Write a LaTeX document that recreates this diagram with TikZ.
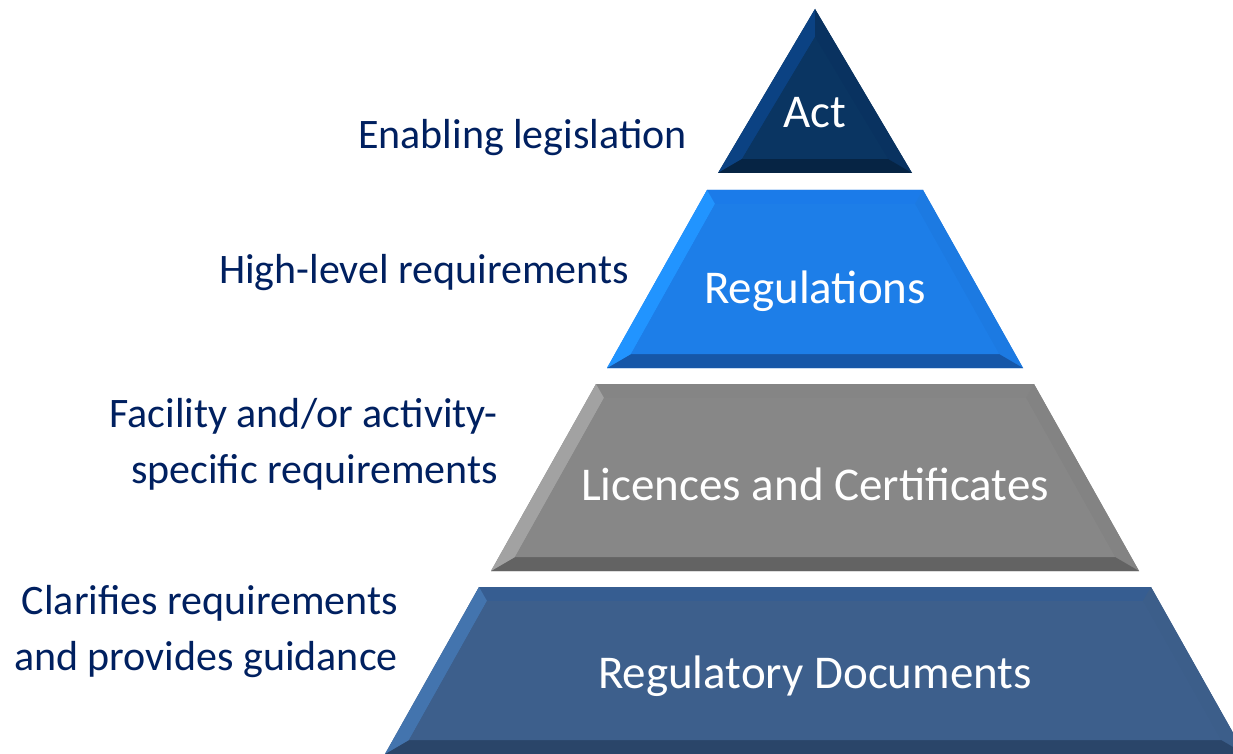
\documentclass[tikz,border=0pt]{standalone}
\usepackage{fontspec}
\setmainfont{Carlito}
\usepackage{xcolor}
\usepackage{tikz}

\definecolor{labelblue}{HTML}{002060}
% act
\definecolor{actmain}{HTML}{0A3562}
\definecolor{actleft}{HTML}{0B4283}
\definecolor{actright}{HTML}{093260}
\definecolor{actbot}{HTML}{062444}
% regulations
\definecolor{regmain}{HTML}{1D7EE8}
\definecolor{regleft}{HTML}{2194FF}
\definecolor{regtop}{HTML}{1B7BE9}
\definecolor{regright}{HTML}{1C7AE2}
\definecolor{regbot}{HTML}{1657A8}
% licences
\definecolor{licmain}{HTML}{878787}
\definecolor{licleft}{HTML}{A2A2A2}
\definecolor{lictop}{HTML}{858585}
\definecolor{licright}{HTML}{838383}
\definecolor{licbot}{HTML}{636363}
% documents
\definecolor{docmain}{HTML}{3D5F8C}
\definecolor{docleft}{HTML}{4374AE}
\definecolor{doctop}{HTML}{365D91}
\definecolor{docright}{HTML}{3C5E8A}
\definecolor{docbot}{HTML}{2A4569}

\begin{document}
\begin{tikzpicture}[x=1pt, y=-1pt,
  tiertext/.style={text=white, inner sep=0pt, anchor=base, font=\fontsize{47}{56}\selectfont},
  sidetext/.style={text=labelblue, inner sep=0pt, anchor=base east, align=right, font=\fontsize{42}{56}\selectfont}]
  \fill[white] (0,0) rectangle (1233,754);
  \useasboundingbox (0,0) rectangle (1233,754);

  % act: triangle at the top
  \fill[actmain] (815,9) -- (912,173) -- (718,173) -- cycle;
  \fill[actleft] (815,9) -- (718,173) -- (742,159) -- (815,37) -- cycle;
  \fill[actright] (815,9) -- (912,173) -- (888,159) -- (815,37) -- cycle;
  \fill[actbot] (718,173) -- (912,173) -- (888,159) -- (742,159) -- cycle;
  \fill[actmain] (815,37) -- (888,159) -- (742,159) -- cycle;

  % the three lower tiers: name/top/bottom/half top/half bottom
  \foreach \c/\yt/\yb/\ht/\hb in {reg/190/368/108/208, lic/384/571/219/324, doc/587/754/336/430}{
    \pgfmathsetmacro{\iyt}{\yt+14}
    \pgfmathsetmacro{\iyb}{\yb-14}
    \pgfmathsetmacro{\iht}{\ht-8}
    \pgfmathsetmacro{\ihb}{\hb-24}
    \fill[\c main] (815-\ht,\yt) -- (815+\ht,\yt) -- (815+\hb,\yb) -- (815-\hb,\yb) -- cycle;
    \fill[\c top] (815-\ht,\yt) -- (815+\ht,\yt) -- (815+\iht,\iyt) -- (815-\iht,\iyt) -- cycle;
    \fill[\c right] (815+\ht,\yt) -- (815+\hb,\yb) -- (815+\ihb,\iyb) -- (815+\iht,\iyt) -- cycle;
    \fill[\c bot] (815-\hb,\yb) -- (815+\hb,\yb) -- (815+\ihb,\iyb) -- (815-\ihb,\iyb) -- cycle;
    \fill[\c left] (815-\ht,\yt) -- (815-\hb,\yb) -- (815-\ihb,\iyb) -- (815-\iht,\iyt) -- cycle;
    \fill[\c main] (815-\iht,\iyt) -- (815+\iht,\iyt) -- (815+\ihb,\iyb) -- (815-\ihb,\iyb) -- cycle;
  }

  \node[tiertext] (act) at (815,128) {Act};
  \node[tiertext] (regs) at (815,303) {Regulations};
  \node[tiertext] (lic) at (815,500) {Licences and Certificates};
  \node[tiertext] (docs) at (815,688) {Regulatory Documents};

  \node[sidetext] (enabling) at (687,149) {Enabling legislation};
  \node[sidetext] (highlevel) at (629,283) {High-level requirements};
  \node[sidetext] (facility) at (498,483) {Facility and/or activity-\\specific requirements};
  \node[sidetext] (clarifies) at (398,670) {Clarifies requirements\\and provides guidance};
\end{tikzpicture}
\end{document}
